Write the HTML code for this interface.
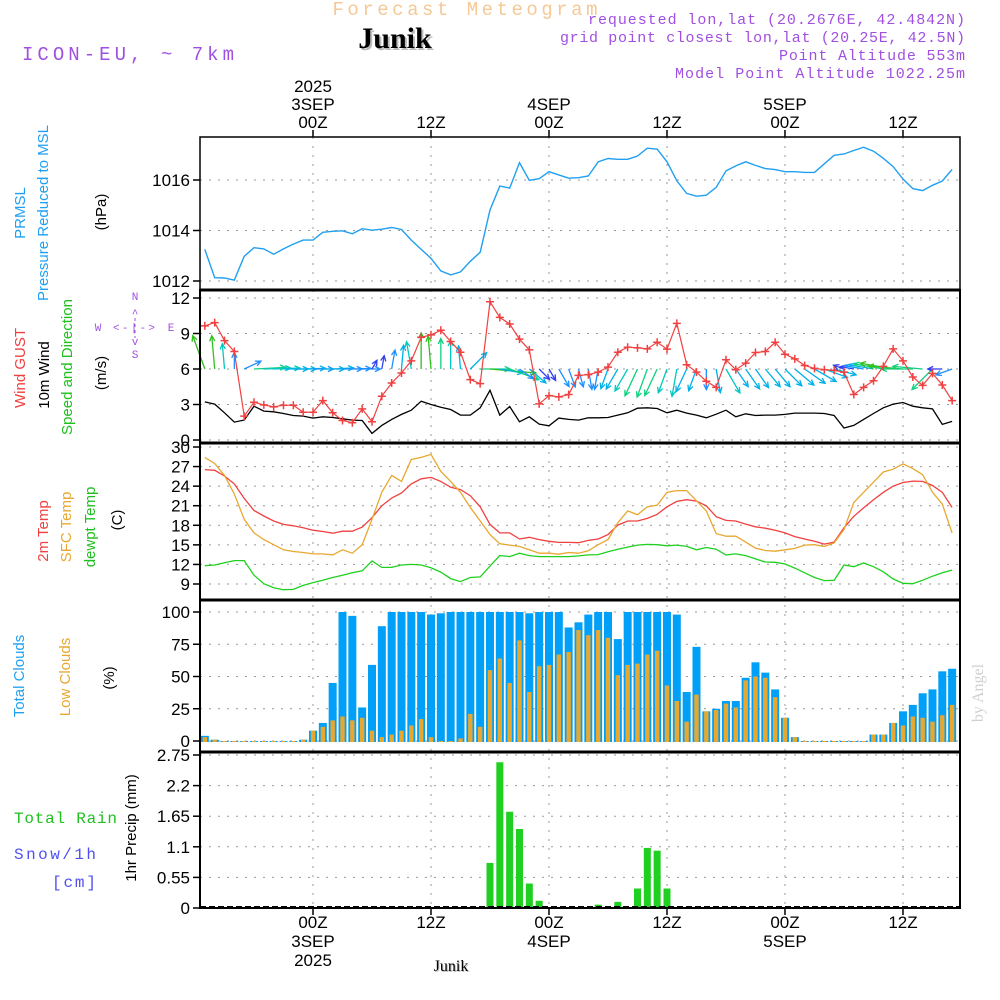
<!DOCTYPE html>
<html><head><meta charset="utf-8"><title>Meteogram Junik</title>
<style>
html,body{margin:0;padding:0;background:#fff;}
svg{display:block;font-family:"Liberation Sans",sans-serif;}
.tk{font-size:17px;fill:#000;text-anchor:end;}
.tm{font-size:17px;fill:#000;text-anchor:middle;}
.lab{font-size:15px;text-anchor:middle;}
.pur{font-family:"Liberation Mono",monospace;font-size:15px;fill:#a050e0;}
</style></head>
<body>
<svg id="chart" width="1000" height="1000" viewBox="0 0 1000 1000">
<g id="grid"></g>
<g id="marks"></g>
<g id="frames"></g>
<g id="ticks"></g>

<text x="465" y="15" font-family="Liberation Mono, monospace" font-size="19" fill="#f5c896" text-anchor="middle" textLength="265" lengthAdjust="spacing">Forecast Meteogram</text>
<text x="397" y="50" font-family="Liberation Serif, serif" font-weight="bold" font-size="30" fill="#bbb" text-anchor="middle">Junik</text>
<text x="395" y="48" font-family="Liberation Serif, serif" font-weight="bold" font-size="30" fill="#000" text-anchor="middle">Junik</text>
<text x="22" y="60" class="pur" style="font-size:19px" textLength="212" lengthAdjust="spacing">ICON-EU, ~ 7km</text>
<text x="965" y="24" class="pur" text-anchor="end" textLength="377" lengthAdjust="spacing">requested lon,lat (20.2676E, 42.4842N)</text>
<text x="965" y="42" class="pur" text-anchor="end" textLength="405" lengthAdjust="spacing">grid point closest lon,lat (20.25E, 42.5N)</text>
<text x="965" y="60" class="pur" text-anchor="end" textLength="186" lengthAdjust="spacing">Point Altitude 553m</text>
<text x="965" y="78" class="pur" text-anchor="end" textLength="290" lengthAdjust="spacing">Model Point Altitude 1022.25m</text>

<g>
<text class="lab" transform="translate(25,213) rotate(-90)" fill="#20a0f0">PRMSL</text>
<text class="lab" transform="translate(48,213) rotate(-90)" fill="#20a0f0">Pressure Reduced to MSL</text>
<text class="lab" transform="translate(106,212) rotate(-90)" fill="#000">(hPa)</text>
</g>
<g>
<text class="lab" transform="translate(25,368) rotate(-90)" fill="#f04040">Wind GUST</text>
<text class="lab" transform="translate(49,375) rotate(-90)" fill="#000">10m Wind</text>
<text class="lab" transform="translate(72,367) rotate(-90)" fill="#20c020">Speed and Direction</text>
<text class="lab" transform="translate(106,373) rotate(-90)" fill="#000">(m/s)</text>
<g fill="#a050e0" font-family="Liberation Mono, monospace" font-size="11" text-anchor="middle">
<text x="135" y="300">N</text><text x="135" y="317">^</text><text x="135" y="358">S</text><text x="135" y="345">v</text>
<text x="98" y="331">W</text><text x="171" y="331">E</text>
<text x="134" y="331" textLength="42" lengthAdjust="spacing">&lt;-|-&gt;</text>
<line x1="135" y1="318" x2="135" y2="338" stroke="#a050e0" stroke-dasharray="3,3"/>
</g>
</g>
<g>
<text class="lab" transform="translate(48,531) rotate(-90)" fill="#f04040">2m Temp</text>
<text class="lab" transform="translate(71,527) rotate(-90)" fill="#e8a830">SFC Temp</text>
<text class="lab" transform="translate(95,527) rotate(-90)" fill="#20c020">dewpt Temp</text>
<text class="lab" transform="translate(122,520) rotate(-90)" fill="#000">(C)</text>
</g>
<g>
<text class="lab" transform="translate(24,676) rotate(-90)" fill="#20a0f0">Total Clouds</text>
<text class="lab" transform="translate(70,677) rotate(-90)" fill="#e8a830">Low Clouds</text>
<text class="lab" transform="translate(114,678) rotate(-90)" fill="#000">(%)</text>
</g>
<g>
<text x="14" y="823" font-family="Liberation Mono, monospace" font-size="16" fill="#20c020" textLength="103" lengthAdjust="spacing">Total  Rain</text>
<text x="14" y="859" font-family="Liberation Mono, monospace" font-size="16" fill="#5050f0" textLength="82" lengthAdjust="spacing">Snow/1h</text>
<text x="52" y="887" font-family="Liberation Mono, monospace" font-size="16" fill="#5050f0" textLength="44" lengthAdjust="spacing">[cm]</text>
<text class="lab" transform="translate(136,828) rotate(-90)" fill="#000">1hr Precip (mm)</text>
</g>
<text transform="translate(983,693) rotate(-90)" font-family="Liberation Serif, serif" font-size="16" fill="#d0d0d0" text-anchor="middle">by Angel</text>
<text x="452" y="972" font-family="Liberation Serif, serif" font-size="16" fill="#bbb" text-anchor="middle">Junik</text>
<text x="451" y="971" font-family="Liberation Serif, serif" font-size="16" fill="#000" text-anchor="middle">Junik</text>
</svg>
<script>
const hours = []; for (let h = -11; h <= 65; h++) hours.push(h);
const pressure = [1013.25,1012.13,1012.12,1012.03,1012.98,1013.32,1013.27,1013.06,1013.27,1013.46,1013.62,1013.62,1013.93,1013.97,1013.99,1013.87,1014.07,1014.01,1014.05,1014.12,1014.04,1013.62,1013.25,1012.90,1012.40,1012.24,1012.36,1012.78,1013.14,1014.81,1015.76,1015.68,1016.69,1015.99,1016.05,1016.33,1016.20,1016.07,1016.09,1016.16,1016.72,1016.85,1016.82,1016.82,1016.95,1017.26,1017.22,1016.72,1015.97,1015.47,1015.36,1015.40,1015.71,1016.36,1016.56,1016.72,1016.58,1016.45,1016.41,1016.33,1016.33,1016.30,1016.30,1016.64,1016.98,1017.03,1017.17,1017.30,1017.14,1016.86,1016.53,1016.04,1015.66,1015.58,1015.79,1015.96,1016.42];
const windSpeed = [3.22,3.03,2.30,1.51,1.68,2.86,2.44,2.38,2.24,2.07,2.02,1.85,1.96,1.90,1.79,1.68,1.65,0.56,1.23,1.74,2.16,2.52,3.28,3.00,2.77,2.58,2.10,2.10,2.72,4.20,2.10,2.83,1.54,1.96,1.34,1.20,1.85,1.74,1.68,1.88,1.88,1.90,2.10,2.30,2.69,2.72,2.66,2.30,2.52,2.27,2.10,1.88,2.18,2.52,1.96,2.21,2.07,2.10,2.10,2.16,2.27,2.27,2.27,2.24,2.07,1.01,1.23,1.74,2.24,2.72,3.03,3.17,2.86,2.72,2.63,1.32,1.57];
const windGust = [9.64,9.92,8.40,7.48,2.02,3.19,2.97,2.80,2.94,2.94,2.35,2.35,3.33,2.30,1.65,1.46,2.63,1.54,3.70,4.82,5.66,6.69,8.68,8.88,9.27,8.32,7.42,5.10,4.76,11.68,10.36,9.80,8.52,7.62,3.05,3.75,3.64,3.84,5.46,5.52,5.74,6.16,7.42,7.84,7.79,7.70,8.26,7.68,9.86,6.36,5.74,4.96,4.45,6.78,5.94,6.50,7.39,7.48,8.26,7.25,6.86,6.30,6.05,5.94,5.88,5.74,3.84,4.45,5.01,6.22,7.70,6.69,5.32,4.62,5.63,4.65,3.33];
const windDir = [110,95,95,90,25,3,2,2,0,0,2,0,0,3,0,2,0,60,80,80,85,100,90,95,90,90,95,45,0,-5,-10,-20,-35,-40,-45,-60,-60,-70,-75,-80,-100,-110,-120,-120,-115,-110,-115,-110,-100,-115,-110,-90,-80,-60,-55,-55,-55,-50,-50,-45,-40,-35,-30,-20,-15,160,170,170,170,170,170,175,180,175,-135,180,200];
const temp2m = [26.53,26.43,25.55,24.35,22.12,20.26,19.43,18.65,18.13,17.92,17.61,17.25,17.04,16.78,17.09,17.09,17.72,19.17,20.98,22.18,22.95,24.35,25.13,25.34,24.72,23.83,23.47,22.54,20.83,18.13,16.83,16.83,15.90,16.16,15.80,15.54,15.38,15.38,15.33,15.69,15.90,16.57,18.03,18.65,18.65,19.06,19.69,20.83,21.66,21.92,21.71,20.98,19.32,18.75,18.65,18.18,17.77,17.56,17.25,16.83,16.26,15.90,15.54,15.12,15.43,17.61,19.38,20.67,21.92,23.06,23.99,24.56,24.77,24.72,24.10,23.06,20.72];
const tempSfc = [28.40,27.47,25.65,22.80,18.91,16.83,15.80,15.02,14.24,13.98,13.83,13.62,13.62,13.46,14.24,13.72,15.02,18.91,23.06,25.65,24.72,28.09,28.40,28.87,26.27,24.72,23.06,20.72,18.65,16.57,15.17,14.97,14.76,14.24,13.72,13.72,13.57,13.83,13.72,14.09,15.02,15.80,18.39,20.21,19.63,20.83,21.09,23.06,23.32,23.32,21.76,20.21,16.73,16.32,16.32,15.43,14.50,14.14,14.03,14.24,14.45,14.97,15.02,14.76,15.28,17.35,21.50,23.06,24.61,26.17,26.59,27.41,26.69,25.76,23.06,21.24,16.83];
const dewpoint = [11.80,11.91,12.27,12.58,12.58,10.35,9.05,8.43,8.12,8.17,8.79,9.21,9.57,9.99,10.35,10.71,11.02,12.53,11.54,11.54,11.91,12.01,11.91,11.49,10.82,9.83,9.37,9.99,10.09,11.75,13.36,13.20,13.72,13.36,13.20,13.20,13.20,13.20,13.31,13.46,13.51,13.93,14.34,14.66,14.97,15.07,15.02,14.86,14.97,14.76,14.24,14.60,14.34,13.46,13.62,13.36,12.84,12.37,12.32,12.06,11.44,10.71,9.99,9.52,9.57,11.91,11.65,12.22,11.65,10.87,9.78,9.11,9.05,9.57,10.19,10.71,11.13];
const totalClouds = [4,1,0,0,0,0,0,0,0,0,1,8,14,45,100,97,26,59,89,100,100,100,100,98,99,100,100,100,100,100,100,100,100,99,100,100,100,88,92,98,100,100,79,100,100,100,100,100,98,38,73,23,25,31,31,49,61,53,40,18,3,0,0,0,0,0,0,0,5,5,14,23,28,37,40,54,56];
const lowClouds = [3,1,0,0,0,0,0,0,0,0,1,8,11,16,19,16,18,8,3,5,8,12,17,3,0,0,2,21,11,55,64,45,78,38,58,59,67,69,86,82,86,80,51,59,60,67,70,43,31,15,36,23,24,29,26,47,50,49,34,18,3,0,0,0,0,0,0,0,5,5,14,12,19,18,15,20,28];
const precipHours = [18,19,20,21,22,23,29,31,33,34,35,36];
const precipValues = [0.81,2.62,1.73,1.42,0.44,0.13,0.06,0.11,0.35,1.08,1.03,0.35];
const pressureTicks = [1012,1014,1016];
const windTicks = [0,3,6,9,12];
const tempTicks = [9,12,15,18,21,24,27,30];
const cloudTicks = [0,25,50,75,100];
const precipTicks = [0,0.55,1.1,1.65,2.2,2.75];
const timeHours = [0,12,24,36,48,60];
const timeLabels = ["00Z","12Z","00Z","12Z","00Z","12Z"];
const dayLabels = {0:"3SEP",24:"4SEP",48:"5SEP"};

const NS = "http://www.w3.org/2000/svg";
const X0 = 200, X1 = 960;
const xh = h => 313 + h * 9.833;
function lin(d0, d1, r0, r1) { return v => r0 + (v - d0) * (r1 - r0) / (d1 - d0); }
const yP = lin(1012, 1016, 281, 180);
const yW = lin(0, 12, 440, 298);
const yT = lin(9, 30, 584, 447);
const yC = lin(0, 100, 741, 612);
const yR = lin(0, 2.75, 908, 755);
const panels = [[137,290],[290,443],[443,600],[600,752],[752,908]];

function mk(tag, attrs, parent) {
  const e = document.createElementNS(NS, tag);
  for (const k in attrs) e.setAttribute(k, attrs[k]);
  parent.appendChild(e); return e;
}
const grid = document.getElementById('grid');
const marks = document.getElementById('marks');
const frames = document.getElementById('frames');
const ticks = document.getElementById('ticks');

timeHours.forEach(h => {
  const l = mk('line', {x1: xh(h), x2: xh(h), y1: 137, y2: 908, stroke: '#999', 'stroke-dasharray': '2,7'}, grid);
  
  
});
function yAxis(tickVals, scale, fmt, name) {
  tickVals.forEach(v => {
    const y = scale(v);
    const g = mk('line', {x1: X0, x2: X1, y1: y, y2: y, stroke: '#999', 'stroke-dasharray': '2,7'}, grid);
    
    
    mk('line', {x1: 193, x2: X0, y1: y, y2: y, stroke: '#000', 'stroke-width': 1.5}, ticks);
    const t = mk('text', {x: 190, y: y + 6, class: 'tk'}, ticks);
    t.textContent = fmt(v);
    
    
  });
}
yAxis(pressureTicks, yP, v => String(v), 'pressure');
yAxis(windTicks, yW, v => String(v), 'wind');
yAxis(tempTicks, yT, v => String(v), 'temp');
yAxis(cloudTicks, yC, v => String(v), 'cloud');
yAxis(precipTicks, yR, v => String(v), 'precip');

panels.forEach((p, i) => {
  const r = mk('rect', {x: X0, y: p[0], width: X1 - X0, height: p[1] - p[0], fill: 'none', stroke: '#000', 'stroke-width': i === 0 ? 1.5 : 2}, frames);
  
  
});
[290,443,600,752].forEach(y => mk('line', {x1: X0, x2: X1, y1: y, y2: y, stroke: '#000', 'stroke-width': 3}, frames));

timeHours.forEach((h, i) => {
  const x = xh(h);
  mk('line', {x1: x, x2: x, y1: 130, y2: 137, stroke: '#000', 'stroke-width': 1.5}, ticks);
  mk('line', {x1: x, x2: x, y1: 908, y2: 915, stroke: '#000', 'stroke-width': 1.5}, ticks);
  const t1 = mk('text', {x: x, y: 128, class: 'tm'}, ticks); t1.textContent = timeLabels[i];
  
  
  const t2 = mk('text', {x: x, y: 928, class: 'tm'}, ticks); t2.textContent = timeLabels[i];
  
  
  if (dayLabels[h]) {
    const d1 = mk('text', {x: x, y: 110, class: 'tm'}, ticks); d1.textContent = dayLabels[h];
    
    
    const d2 = mk('text', {x: x, y: 947, class: 'tm'}, ticks); d2.textContent = dayLabels[h];
    
    
  }
  if (h === 0) {
    const y1 = mk('text', {x: x, y: 92, class: 'tm'}, ticks); y1.textContent = '2025';
    
    
    const y2 = mk('text', {x: x, y: 966, class: 'tm'}, ticks); y2.textContent = '2025';
    
    
  }
});

function line(vals, scale, color, name, w) {
  const pts = vals.map((v, i) => xh(hours[i]).toFixed(1) + ',' + scale(v).toFixed(1)).join(' ');
  const p = mk('polyline', {points: pts, fill: 'none', stroke: color, 'stroke-width': w || 1.3}, marks);
  
  
}

totalClouds.forEach((v, i) => {
  const x = xh(hours[i]);
  const b = mk('rect', {x: x - 4, y: yC(v), width: 8, height: yC(0) - yC(v) + 1, fill: '#00a0f8'}, marks);
  
  
});
lowClouds.forEach((v, i) => {
  const x = xh(hours[i]);
  const b = mk('rect', {x: x - 2.2, y: yC(v), width: 4.4, height: yC(0) - yC(v) + 1, fill: '#e8a830'}, marks);
  
  
});
precipValues.forEach((v, i) => {
  const x = xh(precipHours[i]);
  const b = mk('rect', {x: x - 3.5, y: yR(v), width: 7, height: yR(0) - yR(v), fill: '#20d020'}, marks);
  
  
});
mk('line', {x1: X0, x2: X1, y1: 907, y2: 907, stroke: '#000', 'stroke-width': 2, 'stroke-dasharray': '6,3'}, marks);

line(pressure, yP, '#20a0f0', 'pressure-line', 1.4);
line(temp2m, yT, '#f04040', 'temp-2m-line');
line(tempSfc, yT, '#e8a830', 'sfc-temp-line');
line(dewpoint, yT, '#20d020', 'dewpoint-line');
line(windSpeed, yW, '#000', 'wind-speed-line');

function arrowColor(s) {
  if (s < 1.4) return '#3040f0';
  if (s < 1.9) return '#1e90ff';
  if (s < 2.3) return '#00b0e8';
  if (s < 2.6) return '#00c8c0';
  if (s < 3.0) return '#10d080';
  return '#30c020';
}
windDir.forEach((d, i) => {
  const x = xh(hours[i]), y = yW(6);
  const L = Math.max(10, windSpeed[i] * 11);
  const a = d * Math.PI / 180;
  const x2 = x + L * Math.cos(a), y2 = y - L * Math.sin(a);
  const c = arrowColor(windSpeed[i]);
  const g = mk('g', {stroke: c, 'stroke-width': 1.3, fill: 'none'}, marks);
  
  
  mk('line', {x1: x, y1: y, x2: x2, y2: y2}, g);
  const h1 = a + Math.PI - 0.45, h2 = a + Math.PI + 0.45;
  mk('polyline', {points: (x2 + 6 * Math.cos(h1)) + ',' + (y2 - 6 * Math.sin(h1)) + ' ' + x2 + ',' + y2 + ' ' + (x2 + 6 * Math.cos(h2)) + ',' + (y2 - 6 * Math.sin(h2))}, g);
});

line(windGust, yW, '#f04040', 'wind-gust-line', 1.2);
windGust.forEach((v, i) => {
  const x = xh(hours[i]), y = yW(v);
  const p = mk('path', {d: `M${x-4},${y}H${x+4}M${x},${y-4}V${y+4}`, stroke: '#f04040', 'stroke-width': 1.5}, marks);
  
  
});
</script>
</body></html>
